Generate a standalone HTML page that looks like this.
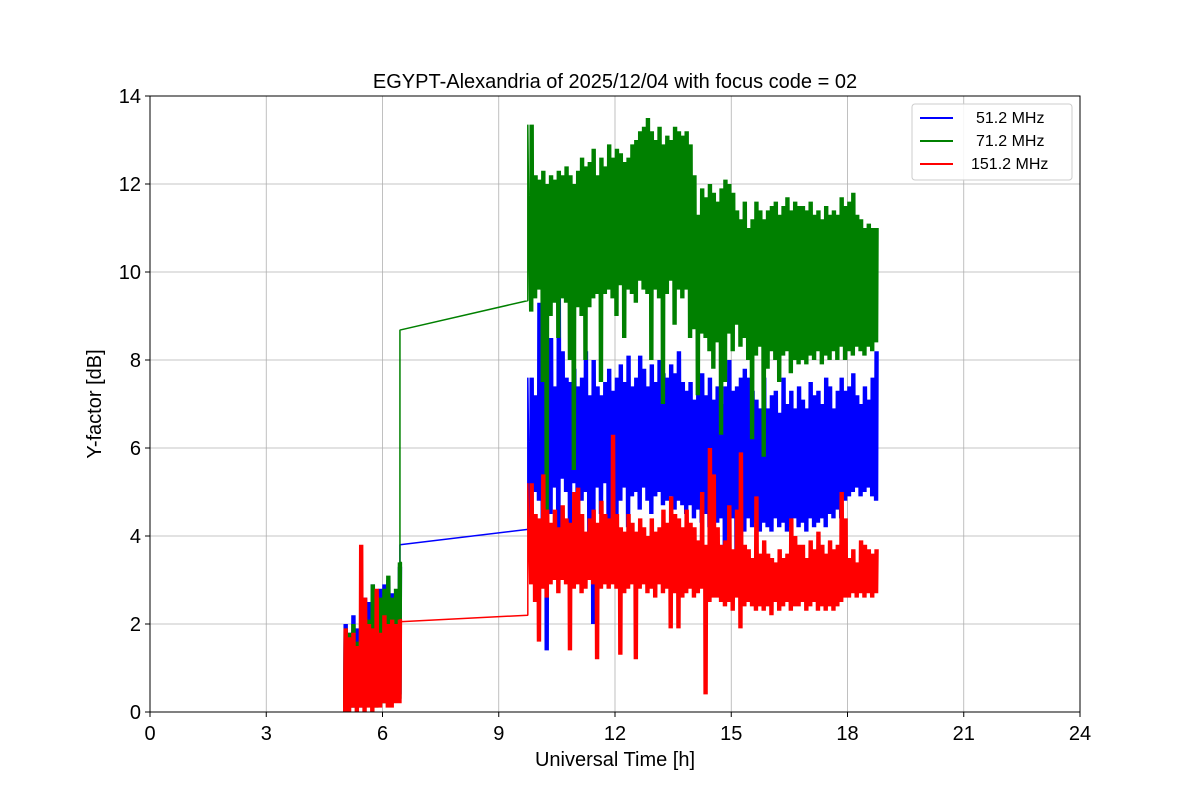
<!DOCTYPE html>
<html>
<head>
<meta charset="utf-8">
<style>
html,body{margin:0;padding:0;background:#fff;}
svg{display:block;font-family:"Liberation Sans","DejaVu Sans",sans-serif;}
</style>
</head>
<body>
<svg id="chart" width="1200" height="800" viewBox="0 0 1200 800">
  <rect x="0" y="0" width="1200" height="800" fill="#fff"/>
  <g id="grid"></g>
  <g id="series"></g>
  <rect x="150" y="96" width="930" height="616" fill="none" stroke="#000" stroke-width="1"/>
  <g id="axes"></g>
  <text x="615" y="88" text-anchor="middle" font-size="20">EGYPT-Alexandria of 2025/12/04 with focus code = 02</text>
  <text x="615" y="766" text-anchor="middle" font-size="20">Universal Time [h]</text>
  <text x="101" y="404" text-anchor="middle" font-size="20" transform="rotate(-90 101 404)">Y-factor [dB]</text>
  <g>
    <rect x="912" y="104" width="160" height="76" rx="3" fill="#fff" fill-opacity="0.85" stroke="#ccc"/>
    <line x1="920" y1="118" x2="953" y2="118" stroke="blue" stroke-width="2"/>
    <text x="976" y="123" font-size="16">51.2 MHz</text>
    <line x1="920" y1="141" x2="953" y2="141" stroke="green" stroke-width="2"/>
    <text x="976" y="146" font-size="16">71.2 MHz</text>
    <line x1="920" y1="164" x2="953" y2="164" stroke="red" stroke-width="2"/>
    <text x="971" y="169" font-size="16">151.2 MHz</text>
  </g>
</svg>
<script>
const xTicks = [0,3,6,9,12,15,18,21,24];
const yTicks = [0,2,4,6,8,10,12,14];
const seg1Start = 5.0, seg2Start = 9.8, binStep = 0.1;
const bridgeTimes = [6.45, 9.75];
const greenBridge = [8.68, 9.35];
const blueBridge = [3.8, 4.15];
const redBridge = [2.05, 2.2];

const greenHigh1 = [1.9,1.8,2.0,1.6,2.0,2.2,2.1,2.9,2.6,2.6,2.8,3.1,2.6,2.8,3.4];
const greenLow1  = [0.1,0.2,0.1,0.1,0.2,0.1,0.3,0.2,0.1,0.3,0.2,0.3,0.2,0.3,0.3];
const blueHigh1  = [2.0,1.8,2.2,1.9,1.9,2.6,2.5,2.9,2.4,2.8,2.9,3.0,2.7,2.6,3.3];
const blueLow1   = [0.2,0.2,0.1,0.2,0.1,0.3,0.2,0.2,0.3,0.2,0.3,0.2,0.3,0.4,0.4];
const redHigh1   = [1.9,1.7,1.8,1.5,3.8,2.6,2.0,1.9,2.8,1.8,2.2,2.0,2.1,2.0,2.1];
const redLow1    = [0.0,0.0,0.1,0.0,0.1,0.0,0.1,0.0,0.1,0.1,0.2,0.1,0.1,0.2,0.2];

const greenHigh2 = [13.35,12.2,12.1,12.3,12.0,12.2,12.1,12.3,12.2,12.4,
12.2,12.0,12.3,12.6,12.4,12.5,12.8,12.2,12.6,12.4,
12.9,12.6,12.8,12.7,12.5,12.6,12.9,13.0,13.2,13.3,
13.5,13.2,13.0,13.3,12.9,13.1,13.0,13.3,13.2,13.1,
13.2,12.9,12.2,11.3,11.9,11.7,12.0,11.8,11.6,11.9,
12.1,12.0,11.8,11.4,11.2,11.6,11.0,11.2,11.6,11.4,
11.2,11.4,11.5,11.6,11.3,11.5,11.7,11.4,11.6,11.5,
11.5,11.4,11.6,11.3,11.4,11.2,11.5,11.3,11.4,11.3,
11.7,11.5,11.6,11.8,11.3,11.2,11.0,11.1,11.0,11.0];
const greenLow2 = [9.1,9.4,9.6,7.5,4.5,9.0,9.3,8.5,9.4,9.3,
8.0,5.5,9.2,9.0,8.0,9.2,9.4,9.5,7.5,9.5,
9.6,9.4,9.0,9.7,8.5,9.6,9.5,9.3,9.8,9.6,
9.5,8.0,9.6,9.4,7.0,9.5,9.8,8.8,9.6,9.4,
9.6,8.5,8.7,7.2,8.6,8.5,8.2,7.8,8.4,6.3,
7.5,8.6,8.2,8.8,8.3,8.5,8.0,6.2,8.1,8.3,
5.8,7.8,8.2,8.0,7.5,8.1,8.2,7.7,8.0,7.9,
8.0,7.9,8.1,8.0,8.2,7.9,8.1,8.0,8.2,8.0,
8.3,8.0,8.2,8.1,8.3,8.2,8.1,8.3,8.2,8.4];
const blueHigh2 = [7.6,7.2,9.3,8.9,7.8,8.5,7.4,9.4,8.2,7.6,
7.5,7.8,7.4,7.6,8.2,7.2,8.0,7.4,7.2,7.5,
7.8,7.3,7.6,7.9,7.5,8.1,7.4,7.6,8.1,7.8,
7.4,7.9,7.5,8.0,7.7,7.6,7.9,7.7,8.2,7.5,
7.3,7.5,7.1,7.4,7.7,7.2,7.6,7.1,7.4,7.0,
7.4,8.0,7.3,7.4,7.6,7.8,7.6,7.3,7.1,6.9,
7.6,6.9,7.2,7.3,6.8,7.6,7.0,7.3,6.9,7.4,
7.1,6.9,7.5,7.2,7.3,7.0,7.6,7.4,6.9,7.3,
7.6,7.3,7.4,7.7,7.2,7.0,7.4,7.1,7.6,8.2];
const blueLow2 = [3.8,5.0,4.8,3.5,1.4,4.5,5.1,3.2,5.3,5.0,
4.2,5.2,4.0,4.8,5.0,3.5,2.0,5.1,4.5,5.2,
3.0,5.0,4.5,4.8,5.1,4.2,4.9,5.0,4.6,5.1,
4.8,4.5,4.9,5.0,4.7,4.8,4.9,4.6,4.8,4.7,
4.5,4.7,4.4,4.6,4.3,4.5,4.2,4.5,4.3,4.4,
2.5,4.2,4.4,2.8,4.3,4.1,4.4,4.2,4.3,4.1,
4.3,4.2,4.1,4.4,4.2,4.3,4.1,4.2,4.4,4.2,
4.3,4.1,4.4,4.2,4.3,4.4,4.2,4.5,4.4,4.6,
4.4,4.8,4.9,5.0,5.1,4.9,5.0,5.1,4.9,4.8];
const redHigh2 = [5.2,4.5,4.4,5.4,4.6,4.3,4.6,4.2,4.7,4.4,
4.3,5.0,5.1,4.5,4.1,4.4,4.6,4.3,4.8,4.5,
4.4,6.3,4.5,4.2,4.1,4.5,4.3,4.1,4.4,4.2,
4.0,4.4,4.1,4.2,4.6,4.3,4.9,4.5,4.4,4.2,
4.6,4.3,4.2,3.9,5.0,3.8,6.0,5.4,4.2,3.8,
3.9,4.7,3.7,4.6,5.9,3.8,3.7,3.5,4.9,3.6,
3.9,3.6,3.5,3.4,3.7,3.5,3.6,4.4,4.0,3.8,
3.8,3.5,3.9,3.7,4.1,3.8,3.6,3.9,3.7,3.8,
5.0,4.4,3.5,3.7,3.4,3.9,3.8,3.7,3.6,3.7];
const redLow2 = [2.9,2.5,1.6,2.8,2.6,2.9,3.0,2.7,3.0,2.9,
1.4,2.8,2.9,2.7,2.8,3.0,2.9,1.2,2.8,2.9,
2.8,2.9,2.8,1.3,2.7,2.8,2.9,1.2,2.8,2.9,
2.7,2.8,2.6,2.9,2.7,2.8,1.9,2.7,1.9,2.6,
2.7,2.8,2.6,2.7,2.8,0.4,2.5,2.6,2.6,2.5,
2.4,2.5,2.3,2.6,1.9,2.4,2.5,2.4,2.3,2.4,
2.3,2.4,2.2,2.5,2.3,2.4,2.5,2.3,2.4,2.4,
2.5,2.3,2.4,2.5,2.3,2.4,2.3,2.4,2.3,2.4,
2.5,2.6,2.6,2.7,2.6,2.7,2.6,2.7,2.6,2.7];

const X0=150,X1=1080,Y0=712,Y1=96;
function xs(t){return X0+(t/24)*(X1-X0);}
function ys(v){return Y0-(v/14)*(Y0-Y1);}
const NS="http://www.w3.org/2000/svg";
const grid=document.getElementById('grid');
const axes=document.getElementById('axes');
const layer=document.getElementById('series');

xTicks.forEach(t=>{
  const g=document.createElementNS(NS,'line');
  g.setAttribute('x1',xs(t));g.setAttribute('x2',xs(t));g.setAttribute('y1',Y1);g.setAttribute('y2',Y0);
  g.setAttribute('stroke','#b0b0b0');g.setAttribute('stroke-width','0.8');
  
  
  grid.appendChild(g);
  const tk=document.createElementNS(NS,'line');
  tk.setAttribute('x1',xs(t));tk.setAttribute('x2',xs(t));tk.setAttribute('y1',Y0);tk.setAttribute('y2',Y0+5);
  tk.setAttribute('stroke','#000');
  
  
  axes.appendChild(tk);
  const tx=document.createElementNS(NS,'text');
  tx.setAttribute('x',xs(t));tx.setAttribute('y',Y0+28);tx.setAttribute('text-anchor','middle');tx.setAttribute('font-size','20');
  tx.textContent=t;
  
  
  axes.appendChild(tx);
});
yTicks.forEach(v=>{
  const g=document.createElementNS(NS,'line');
  g.setAttribute('x1',X0);g.setAttribute('x2',X1);g.setAttribute('y1',ys(v));g.setAttribute('y2',ys(v));
  g.setAttribute('stroke','#b0b0b0');g.setAttribute('stroke-width','0.8');
  
  
  grid.appendChild(g);
  const tk=document.createElementNS(NS,'line');
  tk.setAttribute('x1',X0-5);tk.setAttribute('x2',X0);tk.setAttribute('y1',ys(v));tk.setAttribute('y2',ys(v));
  tk.setAttribute('stroke','#000');
  
  
  axes.appendChild(tk);
  const tx=document.createElementNS(NS,'text');
  tx.setAttribute('x',X0-9);tx.setAttribute('y',ys(v)+7);tx.setAttribute('text-anchor','end');tx.setAttribute('font-size','20');
  tx.textContent=v;
  
  
  axes.appendChild(tx);
});

function zig(start,highs,lows,pts){
  const sub=8;
  for(let i=0;i<highs.length;i++){
    const t=start+i*binStep;
    for(let k=0;k<sub;k++){
      const v=(k%2===0)?lows[i]:highs[i];
      pts.push(xs(t+k*binStep/sub).toFixed(2)+','+ys(v).toFixed(2));
    }
  }
}
function drawSeries(name,color,h1,l1,bridge,h2,l2){
  const pts=[];
  zig(seg1Start,h1,l1,pts);
  pts.push(xs(bridgeTimes[0]).toFixed(2)+','+ys(h1[h1.length-1]).toFixed(2));
  pts.push(xs(bridgeTimes[0]).toFixed(2)+','+ys(bridge[0]).toFixed(2));
  pts.push(xs(bridgeTimes[1]).toFixed(2)+','+ys(bridge[1]).toFixed(2));
  pts.push(xs(bridgeTimes[1]).toFixed(2)+','+ys(h2[0]).toFixed(2));
  zig(seg2Start,h2,l2,pts);
  const p=document.createElementNS(NS,'polyline');
  p.setAttribute('points',pts.join(' '));
  p.setAttribute('fill','none');p.setAttribute('stroke',color);p.setAttribute('stroke-width','1.5');
  p.setAttribute('stroke-linejoin','bevel');
  
  
  layer.appendChild(p);
}
drawSeries('series-51mhz','blue',blueHigh1,blueLow1,blueBridge,blueHigh2,blueLow2);
drawSeries('series-71mhz','green',greenHigh1,greenLow1,greenBridge,greenHigh2,greenLow2);
drawSeries('series-151mhz','red',redHigh1,redLow1,redBridge,redHigh2,redLow2);
</script>
</body>
</html>
